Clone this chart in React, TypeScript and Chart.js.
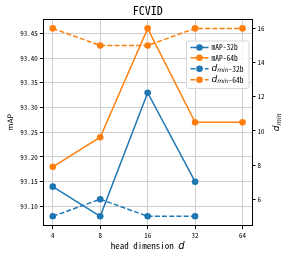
import React, { useEffect, useRef } from "react";
import { Chart, registerables } from "chart.js";
Chart.register(...registerables);

const headDims = [4, 8, 16, 32, 64];
const map32 = [93.14, 93.08, 93.33, 93.15, null];
const map64 = [93.18, 93.24, 93.46, 93.27, 93.27];
const dmin32 = [5, 6, 5, 5, null];
const dmin64 = [16, 15, 15, 16, 16];
const mapTicks = [93.1, 93.15, 93.2, 93.25, 93.3, 93.35, 93.4, 93.45];
const dminTicks = [6, 8, 10, 12, 14, 16];
const titleText = "FCVID";
const xLabel = "head dimension ";

const BLUE = "#1f77b4";
const ORANGE = "#ff7f0e";
const MONO = '"Noto Sans Mono CJK SC", "DejaVu Sans Mono", monospace';
const SANS = '"DejaVu Sans", sans-serif';

function pts(vals: (number | null)[]) {
  const out: { x: number; y: number }[] = [];
  vals.forEach((v, i) => {
    if (v !== null) out.push({ x: Math.log2(headDims[i]), y: v });
  });
  return out;
}
function lims(arrs: (number | null)[][]) {
  const all = arrs.flat().filter((v) => v !== null) as number[];
  const mn = Math.min(...all), mx = Math.max(...all);
  const m = (mx - mn) * 0.05;
  return [mn - m, mx + m];
}

const legendItems = [
  { sub: false, main: "mAP-32b", color: BLUE, dash: false },
  { sub: false, main: "mAP-64b", color: ORANGE, dash: false },
  { sub: true, main: "-32b", color: BLUE, dash: true },
  { sub: true, main: "-64b", color: ORANGE, dash: true },
];

const decor = {
  id: "decor",
  afterDatasetsDraw(chart: any) {
    const ctx = chart.ctx as CanvasRenderingContext2D;
    const a = chart.chartArea;
    ctx.save();
    // top spine
    ctx.strokeStyle = "#000";
    ctx.lineWidth = 1;
    ctx.beginPath();
    ctx.moveTo(a.left, a.top + 0.5);
    ctx.lineTo(a.right, a.top + 0.5);
    ctx.stroke();
    // title
    ctx.fillStyle = "#000";
    ctx.font = `12px ${MONO}`;
    ctx.textAlign = "center";
    ctx.textBaseline = "middle";
    const cx = (a.left + a.right) / 2;
    ctx.fillText(titleText, cx, 10);
    // x label
    ctx.font = `9px ${MONO}`;
    const w1 = ctx.measureText(xLabel).width;
    ctx.font = `italic 10px ${SANS}`;
    const w2 = ctx.measureText("d").width;
    let x0 = cx - (w1 + w2) / 2;
    ctx.textAlign = "left";
    ctx.textBaseline = "alphabetic";
    ctx.font = `9px ${MONO}`;
    ctx.fillText(xLabel, x0, 249);
    ctx.font = `italic 10px ${SANS}`;
    ctx.fillText("d", x0 + w1, 249);
    // y label left
    const cy = (a.top + a.bottom) / 2;
    ctx.save();
    ctx.translate(12.5, cy);
    ctx.rotate(-Math.PI / 2);
    ctx.font = `7.5px ${SANS}`;
    ctx.textAlign = "center";
    ctx.fillText("mAP", 0, 0);
    ctx.restore();
    // y label right
    ctx.save();
    ctx.translate(279, cy);
    ctx.rotate(-Math.PI / 2);
    ctx.font = `italic 9px ${SANS}`;
    const dw = ctx.measureText("d").width;
    ctx.font = `italic 6.5px ${SANS}`;
    const mw = ctx.measureText("min").width;
    const sx = -(dw + mw) / 2;
    ctx.textAlign = "left";
    ctx.font = `italic 9px ${SANS}`;
    ctx.fillText("d", sx, 0);
    ctx.font = `italic 6.5px ${SANS}`;
    ctx.fillText("min", sx + dw, 2);
    ctx.restore();
    // legend
    const lx = 186.5, ly = 41, lw = 62.5, lh = 47.5, r = 2;
    ctx.beginPath();
    ctx.moveTo(lx + r, ly);
    ctx.arcTo(lx + lw, ly, lx + lw, ly + lh, r);
    ctx.arcTo(lx + lw, ly + lh, lx, ly + lh, r);
    ctx.arcTo(lx, ly + lh, lx, ly, r);
    ctx.arcTo(lx, ly, lx + lw, ly, r);
    ctx.closePath();
    ctx.fillStyle = "rgba(255,255,255,0.8)";
    ctx.fill();
    ctx.strokeStyle = "#d6d6d6";
    ctx.lineWidth = 1;
    ctx.stroke();
    const rows = [47.5, 57.8, 68.8, 79.8];
    legendItems.forEach((it, i) => {
      const y = rows[i];
      ctx.strokeStyle = it.color;
      ctx.lineWidth = 1.5;
      ctx.setLineDash(it.dash ? [5, 2.2] : []);
      ctx.beginPath();
      ctx.moveTo(190.5, y);
      ctx.lineTo(208.5, y);
      ctx.stroke();
      ctx.setLineDash([]);
      ctx.fillStyle = it.color;
      ctx.beginPath();
      ctx.arc(199.5, y, 3.3, 0, Math.PI * 2);
      ctx.fill();
      ctx.fillStyle = "#000";
      ctx.textAlign = "left";
      ctx.textBaseline = "middle";
      let tx = 211.5;
      if (it.sub) {
        ctx.font = `italic 9px ${SANS}`;
        ctx.fillText("d", tx, y - 0.5);
        tx += ctx.measureText("d").width;
        ctx.font = `italic 6px ${SANS}`;
        ctx.fillText("min", tx, y + 1.5);
        tx += ctx.measureText("min").width;
      }
      ctx.font = `7.5px ${MONO}`;
      ctx.fillText(it.main, tx, y);
    });
    ctx.restore();
  },
};

export default function App() {
  const ref = useRef<HTMLCanvasElement>(null);
  useEffect(() => {
    document.body.style.margin = "0";
    const [yMin, yMax] = lims([map32, map64]);
    const [rMin, rMax] = lims([dmin32, dmin64]);
    const x2 = headDims.map((d) => Math.log2(d));
    const xm = (x2[x2.length - 1] - x2[0]) * 0.05;
    const ds = (label: string, data: any, color: string, axis: string, dash: boolean, order: number) => ({
      label,
      data,
      borderColor: color,
      backgroundColor: color,
      borderWidth: 1.5,
      borderDash: dash ? [5, 2.2] : [],
      pointRadius: 3.3,
      pointHoverRadius: 3.3,
      pointBorderWidth: 0,
      yAxisID: axis,
      tension: 0,
      order,
    });
    const tickFont = { family: MONO, size: 7 };
    const chart = new Chart(ref.current!, {
      type: "line",
      data: {
        datasets: [
          ds("mAP-32b", pts(map32), BLUE, "y", false, 4),
          ds("mAP-64b", pts(map64), ORANGE, "y", false, 3),
          ds("dmin-32b", pts(dmin32), BLUE, "y1", true, 2),
          ds("dmin-64b", pts(dmin64), ORANGE, "y1", true, 1),
        ] as any,
      },
      options: {
        animation: false,
        responsive: false,
        events: [],
        layout: { padding: { top: 19, left: 0, right: 0, bottom: 0 } },
        plugins: { legend: { display: false }, title: { display: false }, tooltip: { enabled: false } },
        scales: {
          x: {
            type: "linear",
            min: x2[0] - xm,
            max: x2[x2.length - 1] + xm,
            afterBuildTicks: (s: any) => {
              s.ticks = x2.map((v) => ({ value: v }));
            },
            afterFit: (s: any) => {
              s.height = 31.3;
            },
            ticks: {
              font: tickFont,
              color: "#000",
              padding: 2,
              maxRotation: 0,
              callback: (v: any) => String(Math.round(Math.pow(2, v))),
            },
            grid: { color: "#cfcfcf", lineWidth: 1, tickColor: "#000", tickLength: 3.5 },
            border: { color: "#000", width: 1 },
          },
          y: {
            type: "linear",
            position: "left",
            min: yMin,
            max: yMax,
            afterBuildTicks: (s: any) => {
              s.ticks = mapTicks.map((v) => ({ value: v }));
            },
            afterFit: (s: any) => {
              s.width = 43.3;
            },
            ticks: {
              font: tickFont,
              color: "#000",
              padding: 2,
              callback: (v: any) => Number(v).toFixed(2),
            },
            grid: { color: "#cfcfcf", lineWidth: 1, tickColor: "#000", tickLength: 3.5 },
            border: { color: "#000", width: 1 },
          },
          y1: {
            type: "linear",
            position: "right",
            min: rMin,
            max: rMax,
            afterBuildTicks: (s: any) => {
              s.ticks = dminTicks.map((v) => ({ value: v }));
            },
            afterFit: (s: any) => {
              s.width = 33;
            },
            ticks: {
              font: tickFont,
              color: "#000",
              padding: 2,
              callback: (v: any) => String(v),
            },
            grid: { drawOnChartArea: false, tickColor: "#000", tickLength: 3.5 },
            border: { color: "#000", width: 1 },
          },
        },
      } as any,
      plugins: [decor],
    });
    return () => chart.destroy();
  }, []);
  return (
    <div style={{ position: "fixed", left: 0, top: 0, width: 285, height: 257, background: "#fff" }}>
      <canvas ref={ref} width={285} height={257} style={{ display: "block" }} />
    </div>
  );
}
